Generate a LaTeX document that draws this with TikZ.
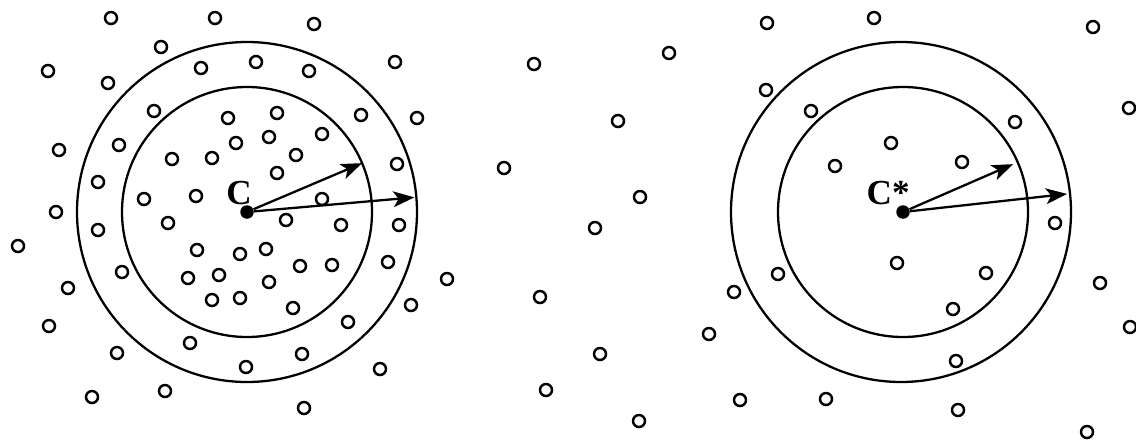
\documentclass[tikz,border=0pt]{standalone}
\usepackage{fontspec}
\setmainfont{Liberation Serif}
\usetikzlibrary{arrows.meta,calc}

\begin{document}
\begin{tikzpicture}[x=0.02cm,y=-0.02cm,>={Stealth[length=12pt,width=9pt,inset=3pt]},
  particle/.style={draw,circle,line width=1.4pt,minimum size=0.24cm,inner sep=0pt},
  ring/.style={draw,line width=1.3pt},
  centre/.style={fill,circle,minimum size=0.27cm,inner sep=0pt},
  radius/.style={->,line width=1.3pt},
  tag/.style={font=\fontsize{20}{20}\selectfont\bfseries,inner sep=0pt}]
\useasboundingbox (0,0) rectangle (1136,443);

% left: dense neighbourhood of C
\node[centre] (C) at (247,212) {};
\node[tag,anchor=south east] (Clab) at (252,205) {C};
\draw[ring] (C.center) circle (125);
\draw[ring] (C.center) circle (170);
\coordinate (Cin) at ($(C.center)+(-23:125)$);
\coordinate (Cout) at ($(C.center)+(-5:168)$);
\draw[radius] (C) -- (Cin);
\draw[radius] (C) -- (Cout);

\foreach \x/\y [count=\i] in {111/18,215/18,314/24,161/47,48/71,201/68,256/62,309/71,395/62,108/83,
  154/111,228/118,277/113,361/115,417/118,59/150,119/145,172/159,212/158,236/143,
  269/137,296/155,322/134,98/182,144/199,196/196,277/173,397/164,56/212,168/223,
  286/220,322/199,341/225,98/230,399/225,18/246,197/250,240/254,266/249,122/272,
  188/278,219/275,300/266,332/265,388/262,68/288,212/300,240/298,269/282,293/308,
  49/326,411/305,447/279,348/322,117/353,190/343,246/367,302/354,380/369,92/397,
  165/391,304/408}
  \node[particle] (l\i) at (\x,\y) {};

% middle: sparse points
\foreach \x/\y [count=\i] in {534/64,669/53,618/121,504/168,640/197,595/228,540/297,600/354,546/390,639/421}
  \node[particle] (m\i) at (\x,\y) {};

% right: sparse neighbourhood of C*
\node[centre] (Cs) at (903,212) {};
\node[tag,anchor=south east] (Cslab) at (910,205) {C*};
\draw[ring] (Cs.center) circle (125);
\draw[ring] ($(Cs.center)+(-2,0)$) circle (170);
\coordinate (Csin) at ($(Cs.center)+(-23.5:120)$);
\coordinate (Csout) at ($(Cs.center)+(-6.3:165)$);
\draw[radius] (Cs) -- (Csin);
\draw[radius] (Cs) -- (Csout);

\foreach \x/\y [count=\i] in {767/23,874/18,766/90,811/111,891/143,835/166,1093/27,1129/108,1015/122,962/162,
  1055/223,897/263,778/274,734/292,709/334,740/400,826/399,986/273,1100/283,953/309,
  1130/327,956/361,958/410,1087/432}
  \node[particle] (r\i) at (\x,\y) {};
\end{tikzpicture}
\end{document}
